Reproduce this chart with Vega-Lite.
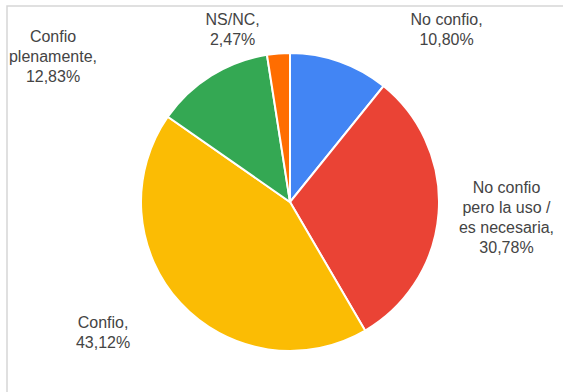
{
  "$schema": "https://vega.github.io/schema/vega-lite/v6.json",
  "width": 566,
  "height": 392,
  "autosize": {"type": "none"},
  "padding": {"left": 7, "top": 6, "right": 0, "bottom": 0},
  "background": "white",
  "config": {"view": {"stroke": null}},
  "data": {
    "values": [
      {"cat": "No confio", "label": "No confio,\n10,80%", "value": 10.80, "order": 1},
      {"cat": "No confio pero la uso / es necesaria", "label": "No confio\npero la uso /\nes necesaria,\n30,78%", "value": 30.78, "order": 2},
      {"cat": "Confio", "label": "Confio,\n43,12%", "value": 43.12, "order": 3},
      {"cat": "Confio plenamente", "label": "Confio\nplenamente,\n12,83%", "value": 12.83, "order": 4},
      {"cat": "NS/NC", "label": "NS/NC,\n2,47%", "value": 2.47, "order": 5}
    ]
  },
  "layer": [
    {
      "data": {"values": [{"frame": 1}]},
      "mark": {"type": "rect", "fill": "white", "stroke": "#d6d6d6", "strokeWidth": 1.5},
      "encoding": {}
    },
    {
      "mark": {"type": "arc", "outerRadius": 149, "stroke": "white", "strokeWidth": 2},
      "encoding": {
        "theta": {"field": "value", "type": "quantitative", "stack": true},
        "order": {"field": "order", "type": "quantitative"},
        "color": {
          "field": "cat",
          "type": "nominal",
          "scale": {
            "domain": ["No confio", "No confio pero la uso / es necesaria", "Confio", "Confio plenamente", "NS/NC"],
            "range": ["#4285F4", "#EA4335", "#FBBC04", "#34A853", "#FF6D01"]
          },
          "legend": null
        }
      }
    },
    {
      "mark": {"type": "text", "radius": 185, "dx": 95, "dy": -8, "lineBreak": "\n", "font": "Liberation Sans", "fontSize": 16, "lineHeight": 20, "color": "#444444", "align": "center", "baseline": "middle"},
      "encoding": {
        "theta": {"field": "value", "type": "quantitative", "stack": true},
        "order": {"field": "order", "type": "quantitative"},
        "text": {"condition": {"test": "datum.cat === 'No confio'", "field": "label"}, "value": ""}
      }
    },
    {
      "mark": {"type": "text", "radius": 185, "dx": 32, "dy": -28, "lineBreak": "\n", "font": "Liberation Sans", "fontSize": 16, "lineHeight": 20, "color": "#444444", "align": "center", "baseline": "middle"},
      "encoding": {
        "theta": {"field": "value", "type": "quantitative", "stack": true},
        "order": {"field": "order", "type": "quantitative"},
        "text": {"condition": {"test": "datum.cat === 'No confio pero la uso / es necesaria'", "field": "label"}, "value": ""}
      }
    },
    {
      "mark": {"type": "text", "radius": 185, "dx": -51, "dy": -4, "lineBreak": "\n", "font": "Liberation Sans", "fontSize": 16, "lineHeight": 20, "color": "#444444", "align": "center", "baseline": "middle"},
      "encoding": {
        "theta": {"field": "value", "type": "quantitative", "stack": true},
        "order": {"field": "order", "type": "quantitative"},
        "text": {"condition": {"test": "datum.cat === 'Confio'", "field": "label"}, "value": ""}
      }
    },
    {
      "mark": {"type": "text", "radius": 185, "dx": -139, "dy": -8, "lineBreak": "\n", "font": "Liberation Sans", "fontSize": 16, "lineHeight": 20, "color": "#444444", "align": "center", "baseline": "middle"},
      "encoding": {
        "theta": {"field": "value", "type": "quantitative", "stack": true},
        "order": {"field": "order", "type": "quantitative"},
        "text": {"condition": {"test": "datum.cat === 'Confio plenamente'", "field": "label"}, "value": ""}
      }
    },
    {
      "mark": {"type": "text", "radius": 185, "dx": -43, "dy": 2, "lineBreak": "\n", "font": "Liberation Sans", "fontSize": 16, "lineHeight": 20, "color": "#444444", "align": "center", "baseline": "middle"},
      "encoding": {
        "theta": {"field": "value", "type": "quantitative", "stack": true},
        "order": {"field": "order", "type": "quantitative"},
        "text": {"condition": {"test": "datum.cat === 'NS/NC'", "field": "label"}, "value": ""}
      }
    }
  ]
}
